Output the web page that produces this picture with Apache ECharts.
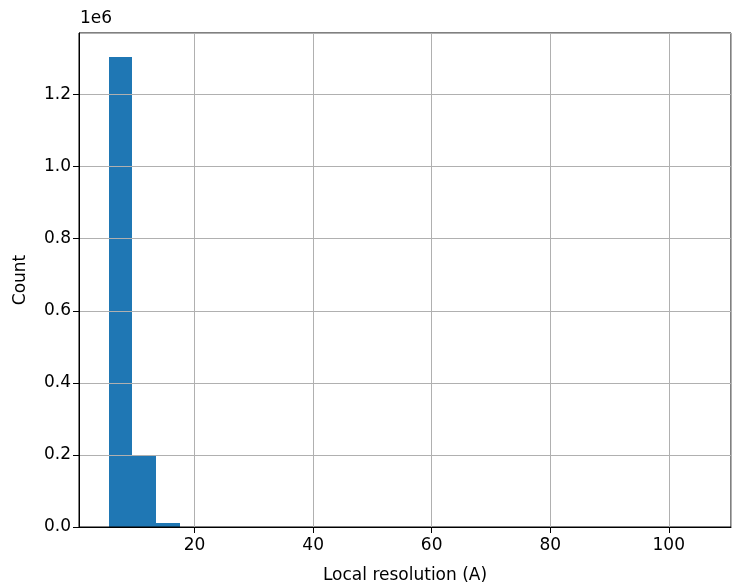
<!DOCTYPE html>
<html>
<head>
<meta charset="utf-8">
<script src="https://cdn.jsdelivr.net/npm/echarts@6/dist/echarts.min.js"></script>
<style>
html,body{margin:0;padding:0;background:#fff;}
#chart{width:732px;height:584px;}
</style>
</head>
<body>
<div id="chart"></div>
<script>
// Histogram bins (Local resolution, Å)
const binStart = 5.5;
const binWidth = 4;
const counts = [1305600, 199000, 12000, 500, 200, 100, 60, 40, 30, 20, 15, 10, 8, 6, 5, 4, 3, 3, 2, 2, 2, 1, 1, 1, 1];
const xTicks = [20, 40, 60, 80, 100];
const yTicks = [0, 0.2e6, 0.4e6, 0.6e6, 0.8e6, 1.0e6, 1.2e6];

const edgesLo = counts.map((c, i) => binStart + i * binWidth);
const edgesHi = counts.map((c, i) => binStart + (i + 1) * binWidth);
const dataMin = edgesLo[0], dataMax = edgesHi[edgesHi.length - 1];
const xPad = 0.05 * (dataMax - dataMin);
const yMax = 1.05 * Math.max(...counts);

const barData = counts.map((c, i) => [edgesLo[i], edgesHi[i], c]);

const FONT = 'DejaVu Sans';
const FS = 17;

const chart = echarts.init(document.getElementById('chart'), null, {renderer: 'canvas'});
chart.setOption({
  animation: false,
  backgroundColor: '#fff',
  grid: {left: 79, top: 33, width: 652, height: 494, containLabel: false, outerBoundsMode: 'none',
         show: true, borderColor: '#000', borderWidth: 1, backgroundColor: 'transparent'},
  xAxis: {
    type: 'value',
    min: dataMin - xPad,
    max: dataMax + xPad,
    splitNumber: 5,
    name: 'Local resolution (A)',
    nameLocation: 'middle',
    nameGap: 40,
    nameTextStyle: {fontFamily: FONT, fontSize: FS, color: '#000'},
    axisLine: {show: true, onZero: false, lineStyle: {color: '#000', width: 1}},
    axisTick: {show: true, length: 6, lineStyle: {color: '#000', width: 1}},
    axisLabel: {
      show: true, margin: 10, fontFamily: FONT, fontSize: FS, color: '#000',
      showMinLabel: false, showMaxLabel: false,
      formatter: v => xTicks.includes(Math.round(v * 1000) / 1000) ? String(v) : ''
    },
    splitLine: {show: true, lineStyle: {color: '#b0b0b0', width: 1}}
  },
  yAxis: {
    type: 'value',
    min: 0,
    max: yMax,
    interval: 0.2e6,
    name: 'Count',
    nameLocation: 'middle',
    nameGap: 50,
    nameRotate: 90,
    nameTextStyle: {fontFamily: FONT, fontSize: FS, color: '#000'},
    axisLine: {show: true, lineStyle: {color: '#000', width: 1}},
    axisTick: {show: true, length: 6, lineStyle: {color: '#000', width: 1}},
    axisLabel: {
      show: true, margin: 8, fontFamily: FONT, fontSize: FS, color: '#000',
      showMaxLabel: false,
      formatter: v => yTicks.some(t => Math.abs(t - v) < 1) ? (v / 1e6).toFixed(1) : ''
    },
    splitLine: {show: true, lineStyle: {color: '#b0b0b0', width: 1}}
  },
  graphic: [{
    type: 'text', left: 80, top: 10,
    style: {text: '1e6', fontFamily: FONT, fontSize: FS, fill: '#000'}
  }],
  series: [{
    type: 'custom',
    z: -1,
    data: barData,
    encode: {x: [0, 1], y: 2},
    renderItem: function (params, api) {
      const p0 = api.coord([api.value(0), api.value(2)]);
      const p1 = api.coord([api.value(1), 0]);
      const x0 = Math.round(p0[0]), x1 = Math.round(p1[0]);
      const y0 = Math.round(p0[1]), y1 = p1[1];
      return {
        type: 'rect',
        shape: {x: x0, y: y0, width: x1 - x0, height: y1 - y0},
        style: {fill: '#1f77b4'}
      };
    }
  }]
});
</script>
</body>
</html>
